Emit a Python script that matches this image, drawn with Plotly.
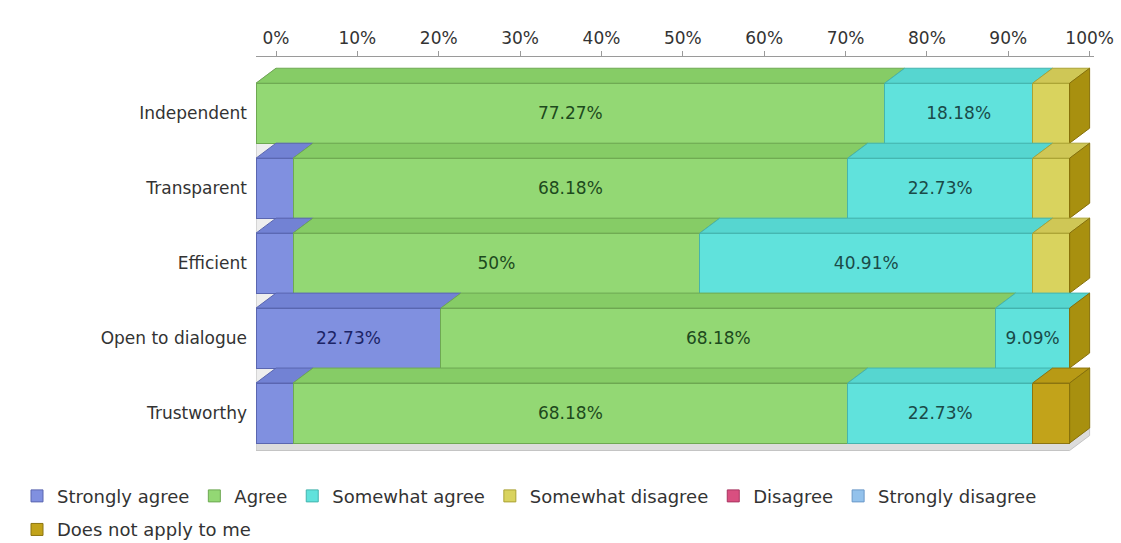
import plotly.graph_objects as go

# ---------------- data ----------------
categories = ["Independent", "Transparent", "Efficient", "Open to dialogue", "Trustworthy"]
series_names = ["Strongly agree", "Agree", "Somewhat agree", "Somewhat disagree",
                "Disagree", "Strongly disagree", "Does not apply to me"]
strongly_agree = [0, 4.55, 4.55, 22.73, 4.55]
agree = [77.27, 68.18, 50, 68.18, 68.18]
somewhat_agree = [18.18, 22.73, 40.91, 9.09, 22.73]
somewhat_disagree = [4.55, 4.55, 4.55, 0, 0]
disagree = [0, 0, 0, 0, 0]
strongly_disagree = [0, 0, 0, 0, 0]
does_not_apply = [0, 0, 0, 0, 4.55]
x_tick_values = [0, 10, 20, 30, 40, 50, 60, 70, 80, 90, 100]

# ---------------- styles ----------------
series_values = [strongly_agree, agree, somewhat_agree, somewhat_disagree,
                 disagree, strongly_disagree, does_not_apply]
front_colors = ["#8090e0", "#93d874", "#60e2dc", "#d9d35e", "#d94f80", "#93c2ec", "#c2a31a"]
top_colors = ["#7282d4", "#86cc66", "#56d6d0", "#cfc756", "#c94474", "#86b6e0", "#b89a15"]
line_colors = ["#5a66b0", "#6ea852", "#44b4ae", "#aaa234", "#a83560", "#6a98c8", "#8c7410"]
text_colors = ["#1c2466", "#1d4a1d", "#1a4a48", "#4a4410", "#401020", "#1a3050", "#3a3008"]
side_color = "#a8900f"
side_line = "#86700a"

FONT = "DejaVu Sans"
bar_w = 0.8
dx = 2.46   # depth offset in x units
dy = 0.2    # depth offset in category units

y_pos = list(range(len(categories)))

fig = go.Figure()

# front faces (bars)
for i, name in enumerate(series_names):
    vals = series_values[i]
    texts = [f"{v:g}%" if v >= 5 else "" for v in vals]
    fig.add_trace(go.Bar(
        y=y_pos, x=vals, orientation="h", name=name, width=bar_w,
        marker=dict(color=front_colors[i], line=dict(color=line_colors[i], width=1)),
        text=texts, textposition="inside", insidetextanchor="middle",
        textangle=0, constraintext="none",
        textfont=dict(family=FONT, size=17, color=text_colors[i]),
        hoverinfo="skip",
        legend="legend2" if i == len(series_names) - 1 else "legend",
    ))

# top faces and side faces for 3D look
for r, _ in enumerate(categories):
    start = 0.0
    last_end = 0.0
    for i in range(len(series_names)):
        v = series_values[i][r]
        if v <= 0:
            continue
        x0, x1 = start, start + v
        yt = r - bar_w / 2
        fig.add_trace(go.Scatter(
            x=[x0, x1, x1 + dx, x0 + dx, x0],
            y=[yt, yt, yt - dy, yt - dy, yt],
            mode="lines", fill="toself", fillcolor=top_colors[i],
            line=dict(color=line_colors[i], width=1),
            hoverinfo="skip", showlegend=False,
        ))
        start = x1
        last_end = x1
    yt = r - bar_w / 2
    yb = r + bar_w / 2
    fig.add_trace(go.Scatter(
        x=[last_end, last_end + dx, last_end + dx, last_end, last_end],
        y=[yt, yt - dy, yb - dy, yb, yt],
        mode="lines", fill="toself", fillcolor=side_color,
        line=dict(color=side_line, width=1),
        hoverinfo="skip", showlegend=False,
    ))

# dummy trace so the top (back-plane) axis is drawn
fig.add_trace(go.Scatter(x=[0], y=[0], xaxis="x2", yaxis="y", mode="markers",
                         marker=dict(opacity=0), hoverinfo="skip", showlegend=False))

n = len(categories)
bottom = n - 1 + bar_w / 2
top = -bar_w / 2
# floor slab and left wall (below the bars)
shapes = [
    dict(type="path", xref="x", yref="y", layer="below",
         path=f"M 0 {bottom} L 100 {bottom} L {100+dx} {bottom-dy} L {100+dx} {bottom-dy+0.1} "
              f"L 100 {bottom+0.1} L 0 {bottom+0.1} Z",
         fillcolor="#dcdcdc", line=dict(color="#c4c4c4", width=1)),
    dict(type="path", xref="x", yref="y", layer="below",
         path=f"M 0 {top} L {dx} {top-dy} L {dx} {bottom-dy} L 0 {bottom} Z",
         fillcolor="#eeeeee", line=dict(color="#bcbcbc", width=1)),
]

plot_w = 1121 - 256 - 27
legend_x = (17 - 256) / plot_w

fig.update_layout(
    width=1121, height=543,
    paper_bgcolor="white", plot_bgcolor="white",
    barmode="stack", bargap=0.2,
    margin=dict(l=256, r=27, t=57, b=91, autoexpand=False),
    font=dict(family=FONT, size=17, color="#333333"),
    shapes=shapes,
    xaxis=dict(range=[0, 103], visible=False, fixedrange=True, automargin=False),
    xaxis2=dict(range=[-dx, 103 - dx], overlaying="x", side="top", anchor="y",
                tickvals=x_tick_values, ticktext=[f"{v}%" for v in x_tick_values],
                showline=True, linecolor="#9a9a9a", linewidth=1,
                ticks="outside", ticklen=5, tickcolor="#9a9a9a",
                showgrid=False, zeroline=False, automargin=False,
                tickfont=dict(family=FONT, size=17, color="#333333")),
    yaxis=dict(range=[bottom + 0.12, top - dy - 0.15], tickvals=y_pos, ticktext=categories,
               showgrid=False, zeroline=False, showline=False, ticks="",
               ticklabelstandoff=8, automargin=False,
               tickfont=dict(family=FONT, size=17, color="#333333")),
    showlegend=True,
    legend=dict(orientation="h", x=legend_x, xanchor="left", y=-0.065, yanchor="top",
                entrywidth=0, entrywidthmode="pixels",
                font=dict(family=FONT, size=18, color="#333333"),
                traceorder="normal", itemclick=False, itemdoubleclick=False),
    legend2=dict(orientation="h", x=legend_x, xanchor="left", y=-0.15, yanchor="top",
                 font=dict(family=FONT, size=18, color="#333333"),
                 itemclick=False, itemdoubleclick=False),
)

fig.write_html("out.html", config={"displayModeBar": False},
               post_script="document.body.style.margin='0px';")
